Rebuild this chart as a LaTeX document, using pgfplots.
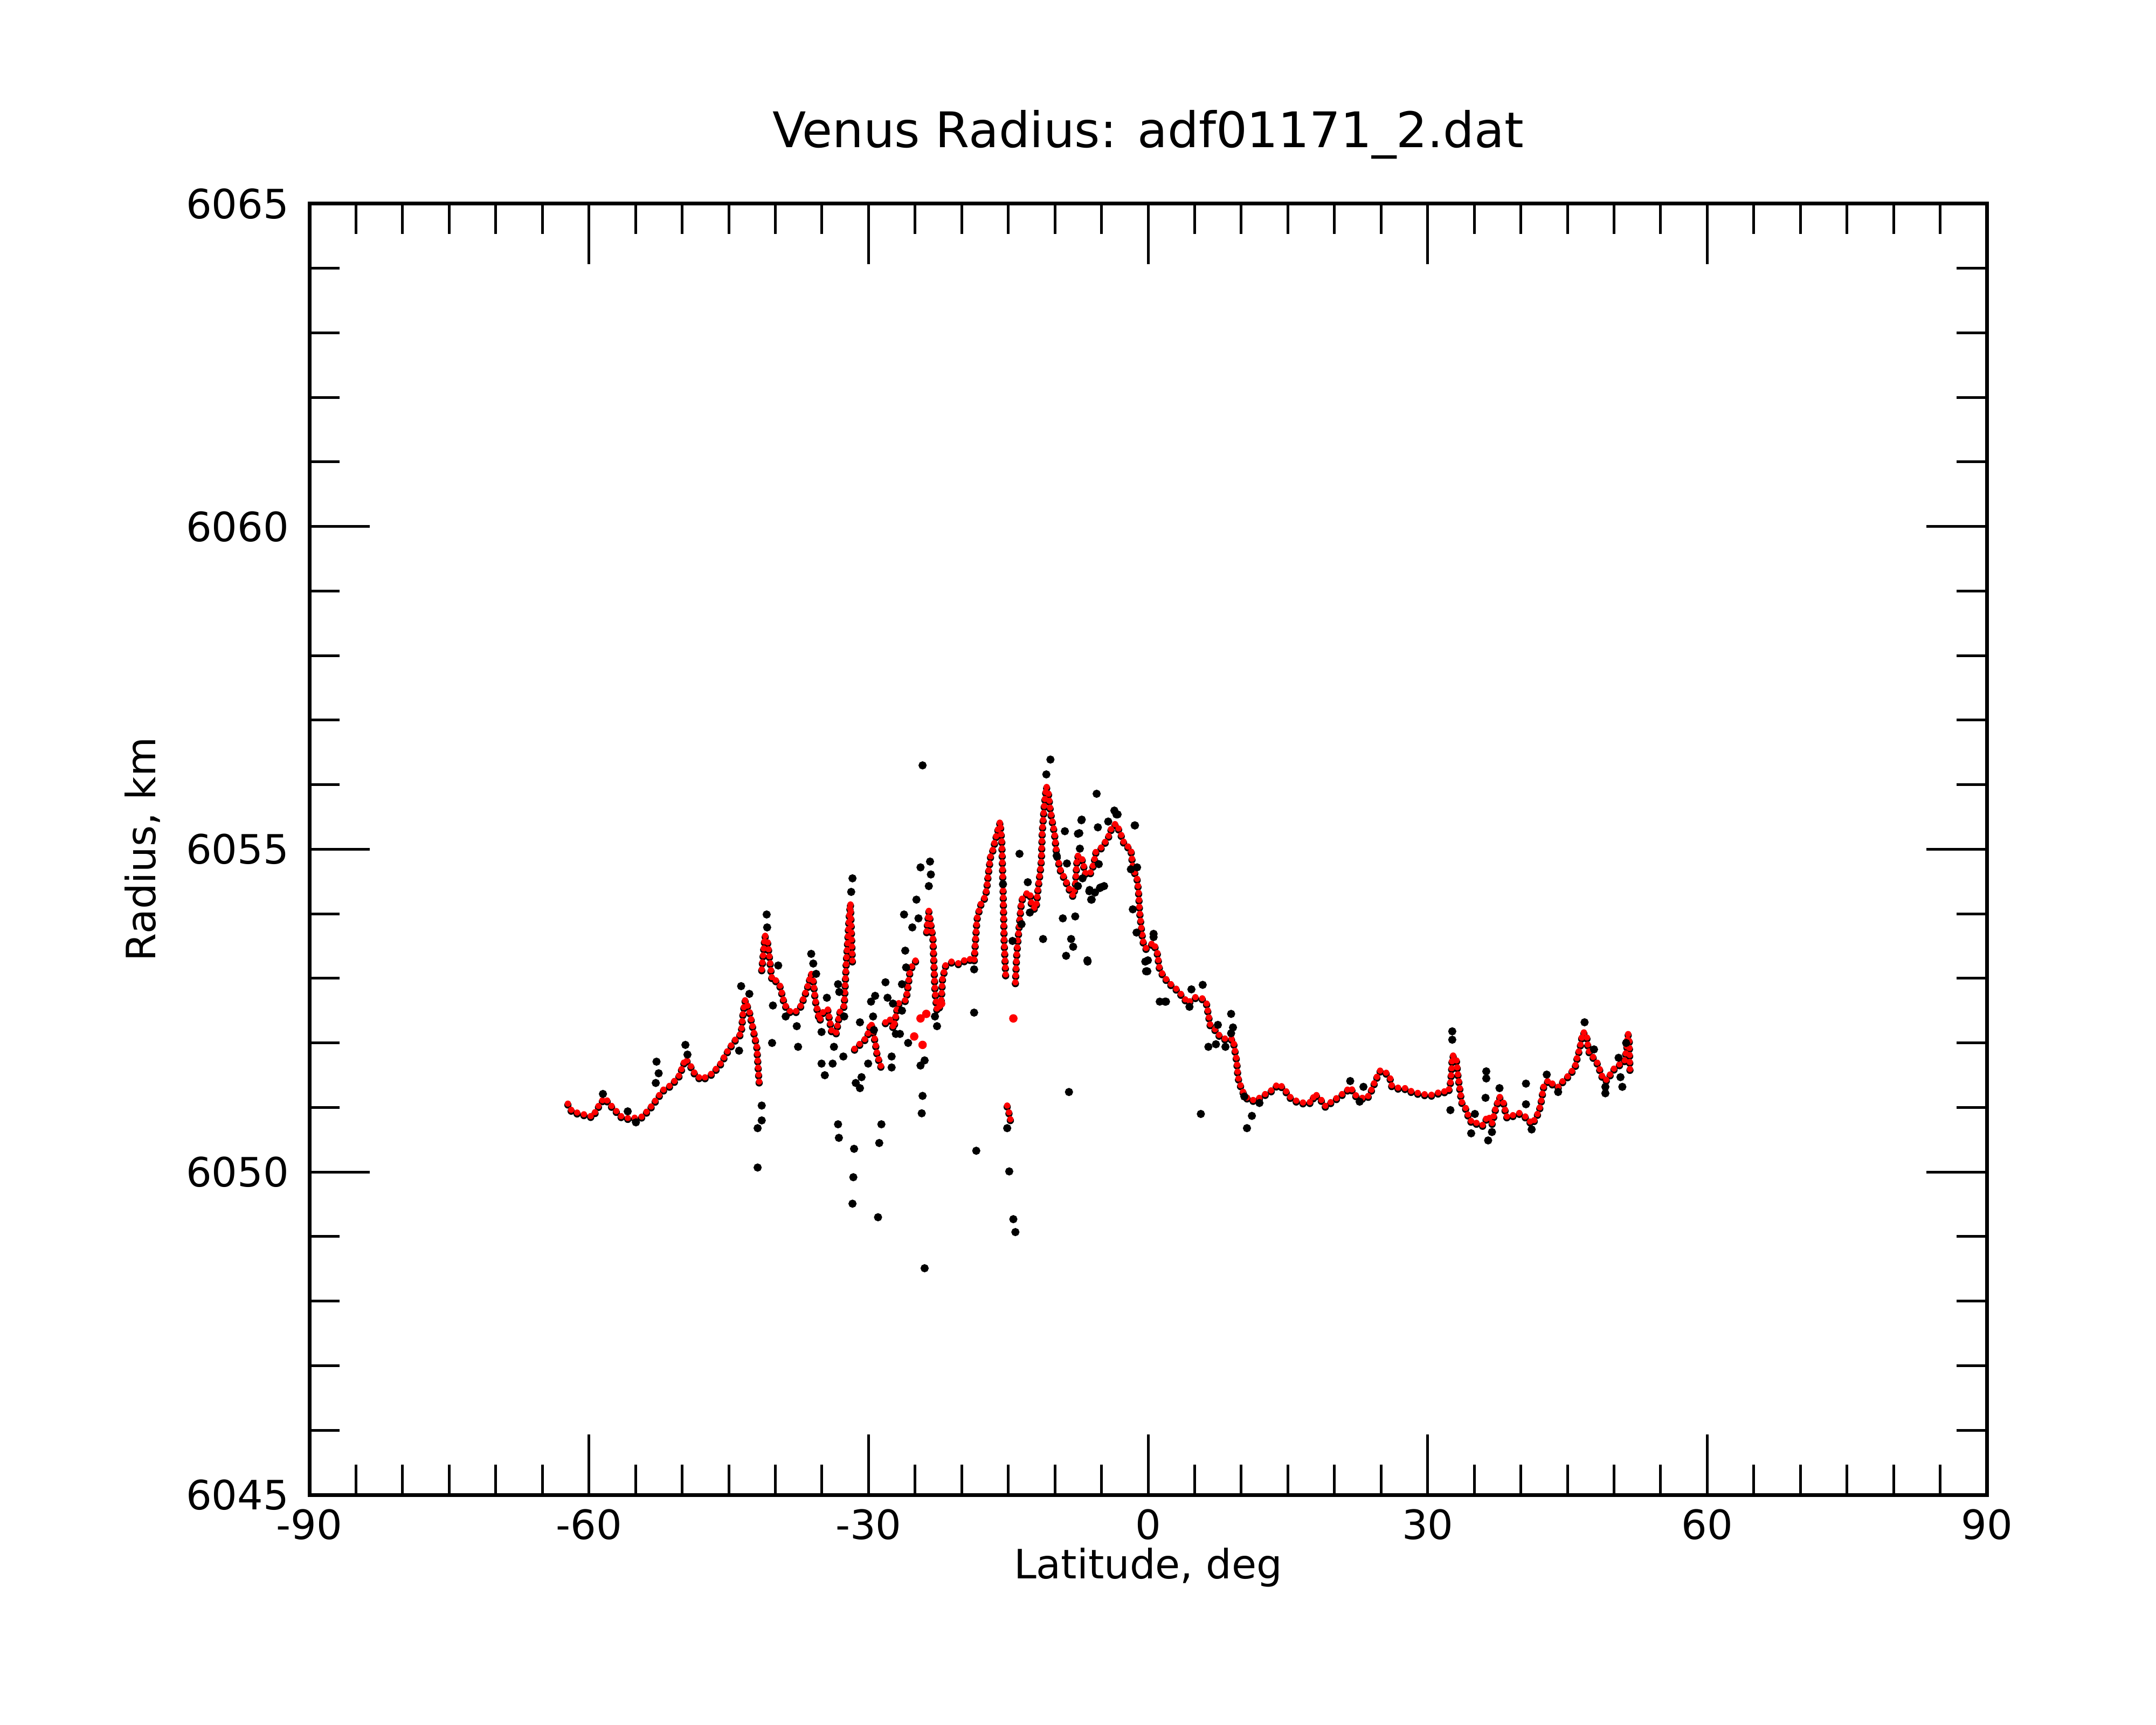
\documentclass[border=0pt]{standalone}
\usepackage{fontspec}
\setmainfont{DejaVu Sans}
\usepackage{pgfplots}
\usepackage{pgfplotstable}
\pgfplotsset{compat=1.18}
\pgfplotstableread{
lat r
-62.26 6051.06
-61.82 6050.94
-60.93 6050.91
-59.61 6050.86
-58.72 6051.09
-58.28 6051.15
-57.61 6051.03
-56.51 6050.86
-55.62 6050.83
-54.30 6050.86
-53.41 6051.00
-52.52 6051.18
-52.08 6051.27
-51.20 6051.35
-50.31 6051.50
-49.65 6051.76
-49.21 6051.68
-48.54 6051.50
-47.88 6051.44
-46.77 6051.53
-45.89 6051.68
-45.00 6051.91
-44.12 6052.09
-43.67 6052.15
-43.45 6052.50
-43.23 6052.67
-42.79 6052.50
-42.35 6052.20
-41.99 6051.95
-41.90 6051.76
-41.77 6051.46
-41.68 6051.30
-41.60 nan
-41.46 6053.14
-41.11 6053.67
-40.80 6053.55
-40.57 6053.26
-40.35 6052.97
-39.91 6052.97
-39.47 6052.88
-39.03 6052.61
-38.58 6052.50
-37.92 6052.47
-37.26 6052.58
-36.59 6052.85
-36.15 6053.08
-35.93 6052.97
-35.71 6052.67
-35.26 6052.35
-34.82 6052.50
-34.38 6052.53
-33.94 6052.17
-33.49 6052.15
-33.05 6052.50
-32.61 6052.58
-32.39 6053.26
-32.25 6053.55
-32.08 6053.96
-31.94 6054.17
-31.72 6053.23
-31.60 nan
-31.50 6051.91
-31.06 6051.97
-30.62 6052.03
-30.17 6052.09
-29.95 6052.20
-29.73 6052.32
-29.29 6052.03
-29.07 6051.82
-28.62 6051.62
-28.40 nan
-28.18 6052.32
-27.74 6052.38
-27.30 6052.23
-26.85 6052.61
-25.97 6052.67
-25.53 6053.14
-25.08 6053.26
-24.64 6053.32
-24.50 nan
-23.76 6053.73
-23.53 6054.05
-23.09 6053.64
-22.87 6052.82
-22.65 6052.50
-22.21 6052.61
-22.07 6052.99
-21.76 6053.20
-21.10 6053.26
-20.21 6053.23
-19.33 6053.32
-18.67 6053.26
-18.53 6053.58
-18.36 6053.93
-18.00 6054.14
-17.56 6054.25
-17.34 6054.37
-17.12 6054.66
-16.90 6054.90
-16.67 6054.99
-16.23 6055.25
-15.88 6055.43
-15.70 6055.13
-15.57 6054.45
-15.44 6053.55
-15.35 6053.29
-15.26 6052.97
-15.20 nan
-15.12 6051.03
-14.90 6050.91
-14.68 6050.74
-14.60 nan
-14.24 6052.94
-14.11 6053.35
-14.02 6053.52
-13.80 6053.87
-13.58 6054.22
-13.13 6054.31
-12.69 6054.34
-12.47 6054.11
-12.03 6054.08
-11.81 6054.40
-11.58 6054.66
-11.45 6054.84
-11.36 6055.28
-11.14 6055.69
-10.92 6055.98
-10.70 6055.89
-10.48 6055.60
-10.04 6055.25
-9.81 6054.93
-9.37 6054.66
-8.93 6054.55
-8.49 6054.40
-8.04 6054.28
-7.82 6054.43
-7.60 6054.90
-7.16 6054.90
-6.72 6054.63
-6.27 6054.61
-5.83 6054.78
-5.61 6054.96
-4.94 6055.04
-4.28 6055.19
-3.84 6055.37
-3.40 6055.40
-2.95 6055.25
-2.51 6055.07
-1.85 6055.02
-1.63 6054.72
-1.18 6054.55
-1.03 6054.37
-0.91 6054.05
-0.71 6053.77
-0.55 6053.58
-0.22 6053.47
0.59 6053.56
1.00 6053.39
1.20 6053.18
1.60 6053.05
2.21 6052.94
3.02 6052.84
3.83 6052.71
4.24 6052.62
5.05 6052.71
5.86 6052.69
6.27 6052.62
6.47 6052.45
6.67 6052.28
7.28 6052.20
7.69 6052.11
8.50 6052.05
9.11 6052.07
9.31 6051.90
9.51 6051.73
9.60 6051.56
9.72 6051.43
10.12 6051.26
10.73 6051.13
11.54 6051.11
12.35 6051.19
13.17 6051.26
13.98 6051.37
14.59 6051.30
15.19 6051.17
15.80 6051.11
16.82 6051.07
17.63 6051.09
17.83 6051.22
18.44 6051.15
19.05 6051.02
19.66 6051.09
20.47 6051.17
21.28 6051.26
21.69 6051.32
22.29 6051.19
22.90 6051.15
23.51 6051.15
23.92 6051.26
24.53 6051.47
24.93 6051.58
25.54 6051.54
25.95 6051.47
26.15 6051.34
26.96 6051.30
27.77 6051.30
28.38 6051.24
29.19 6051.22
30.21 6051.19
31.02 6051.22
31.42 6051.26
32.23 6051.24
32.44 6051.39
32.56 6051.56
32.64 6051.81
33.05 6051.79
33.25 6051.51
33.45 6051.30
33.65 6051.09
34.06 6051.00
34.47 6050.83
34.87 6050.75
35.48 6050.77
35.89 6050.73
36.29 6050.83
36.49 6050.88
36.90 6050.75
37.30 6051.00
37.71 6051.17
38.12 6051.09
38.32 6050.96
38.52 6050.85
39.13 6050.88
39.74 6050.92
40.14 6050.90
40.75 6050.83
41.16 6050.75
41.56 6050.83
41.97 6050.96
42.17 6051.09
42.46 6051.34
42.98 6051.43
43.59 6051.34
44.00 6051.32
44.61 6051.43
45.22 6051.51
45.83 6051.64
46.03 6051.77
46.35 6051.94
46.64 6052.17
47.04 6052.15
47.24 6051.90
47.45 6051.83
47.85 6051.77
48.26 6051.68
48.66 6051.51
48.87 6051.43
49.27 6051.43
49.68 6051.54
50.08 6051.62
50.69 6051.68
51.10 6051.71
51.38 6051.94
51.50 6052.15
51.63 6052.07
51.71 6051.58
}\redtab
\pgfplotstableread{
lat r
-24.42 6052.38
-24.20 6051.97
-14.46 6052.38
-22.21 6052.61
-25.10 6052.10
-23.80 6052.45
}\redsingle
\pgfplotstableread{
lat r
-58.50 6051.21
-55.84 6050.94
-54.96 6050.77
-52.75 6051.71
-52.52 6051.53
-52.83 6051.38
-49.65 6051.97
-49.43 6051.82
-43.67 6052.88
-42.79 6052.76
-43.89 6051.88
-41.90 6050.07
-41.90 6050.68
-41.46 6051.03
-41.46 6050.80
-40.93 6053.99
-40.88 6053.79
-40.35 6052.00
-40.26 6052.58
-39.69 6053.20
-38.89 6052.41
-37.70 6052.26
-37.56 6051.94
-36.15 6053.38
-35.93 6053.23
-35.62 6053.07
-35.04 6052.17
-35.04 6051.68
-34.69 6051.50
-34.47 6052.70
-33.71 6051.94
-33.85 6051.68
-33.27 6052.91
-33.14 6052.79
-33.27 6050.74
-33.18 6050.53
-32.70 6051.79
-32.61 6052.41
-31.72 6054.55
-31.86 6054.34
-31.55 6050.36
-31.63 6049.92
-31.72 6049.51
-31.37 6051.38
-30.92 6051.30
-30.92 6052.32
-30.75 6051.47
-30.04 6051.68
-29.73 6052.64
-29.29 6052.73
-29.51 6052.41
-29.42 6052.20
-28.98 6049.30
-28.85 6050.45
-28.62 6050.74
-28.18 6052.94
-27.96 6052.70
-27.52 6051.79
-27.52 6051.62
-27.38 6052.61
-27.07 6052.14
-26.63 6052.14
-26.41 6052.91
-26.41 6052.50
-26.19 6053.99
-26.06 6053.43
-25.97 6053.17
-25.75 6052.00
-25.30 6053.79
-24.86 6054.22
-24.64 6053.93
-24.42 6054.72
-24.20 6056.30
-23.98 6048.51
-24.20 6051.18
-24.29 6050.91
-24.42 6051.65
-23.98 6051.73
-23.53 6054.43
-23.40 6054.81
-23.31 6054.61
-22.65 6052.26
-22.87 6052.41
-18.67 6052.47
-18.44 6050.33
-18.67 6053.14
-15.57 6054.46
-14.90 6050.01
-14.46 6049.27
-14.24 6049.07
-15.12 6050.68
-14.55 6053.58
-13.80 6054.93
-13.58 6053.84
-12.91 6054.49
-12.69 6054.02
-11.27 6053.61
-10.92 6056.16
-10.48 6056.39
-9.81 6054.90
-9.15 6053.93
-8.93 6055.28
-8.80 6053.35
-8.49 6051.24
-8.26 6053.61
-8.04 6053.49
-8.71 6054.78
-7.82 6053.96
-7.38 6055.25
-7.16 6055.45
-7.03 6054.55
-6.49 6053.26
-6.27 6054.37
-6.05 6054.22
-5.52 6055.86
-5.39 6055.34
-5.17 6054.40
-4.72 6054.43
-4.28 6055.43
-3.62 6055.60
-3.40 6055.54
-1.40 6055.37
-1.18 6054.72
-0.30 6053.26
-0.08 6053.11
0.59 6053.64
1.25 6052.64
1.92 6052.64
-7.12 6055.46
-7.53 6055.24
-7.32 6055.01
-7.53 6054.43
-6.31 6054.35
-6.11 6054.22
-5.70 6054.33
-5.09 6054.41
-6.51 6053.28
-5.29 6054.77
-3.27 6055.54
-1.85 6054.69
-1.64 6054.07
-1.24 6053.71
-1.44 6055.37
-0.22 6053.11
-0.02 6053.28
0.59 6053.69
1.81 6052.64
4.44 6052.56
4.65 6052.83
5.86 6052.90
6.47 6051.94
7.49 6052.28
7.28 6051.98
8.30 6051.94
8.91 6052.45
9.11 6052.24
8.91 6052.15
5.66 6050.90
10.61 6050.68
11.14 6050.87
10.33 6051.17
11.95 6051.07
21.69 6051.41
22.70 6051.09
23.11 6051.32
32.64 6052.18
32.44 6050.96
32.64 6052.05
34.67 6050.60
35.07 6050.90
36.29 6051.56
36.29 6051.45
36.21 6051.15
36.49 6050.49
36.90 6050.62
37.71 6051.30
40.55 6051.37
40.55 6051.05
41.16 6050.66
42.78 6051.51
44.00 6051.24
46.84 6052.32
47.85 6051.90
49.07 6051.32
49.07 6051.22
50.49 6051.77
50.69 6051.47
50.89 6051.32
51.30 6052.00
}\blacktab
\begin{document}
\begin{tikzpicture}
\path[use as bounding box] (0,0) rectangle (400bp,320bp);
\begin{axis}[
  at={(57.4bp,42.7bp)}, anchor=south west,
  scale only axis, width=311.2bp, height=239.5bp,
  xmin=-90, xmax=90, ymin=6045, ymax=6065,
  xtick={-90,-60,-30,0,30,60,90},
  xticklabels={-90,-60,-30,0,30,60,90},
  ytick={6045,6050,6055,6060,6065},
  yticklabels={6045,6050,6055,6060,6065},
  minor x tick num=5, minor y tick num=4,
  tick align=inside, tick pos=both,
  major tick length=11.2bp, minor tick length=5.6bp,
  tick style={black, line width=0.5bp},
  axis line style={line width=0.7bp},
  font=\fontsize{7.5bp}{9bp}\selectfont,
  xticklabel style={inner sep=0pt, anchor=north, yshift=-2.5bp},
  yticklabel style={inner sep=0pt, anchor=east, xshift=-3.6bp},
  xlabel={Latitude, deg},
  xlabel style={at={(axis description cs:0.5,-0.0564)}, anchor=center, inner sep=0pt},
  ylabel={Radius, km},
  ylabel style={at={(axis description cs:-0.0996,0.5)}, anchor=center, inner sep=0pt},
  unbounded coords=jump,
]
\addplot[only marks, mark=*, mark size=0.55bp, black] table {\blacktab};
\addplot[no markers, black, line width=1.35bp, line cap=round, dash pattern=on 0bp off 1.3bp, yshift=-0.25bp] table {\redtab};
\addplot[no markers, red, line width=1.15bp, line cap=round, dash pattern=on 0bp off 1.3bp] table {\redtab};
\addplot[only marks, mark=*, mark size=0.58bp, red, draw=red, fill=red] table {\redsingle};
\end{axis}
\node[font=\fontsize{9.1bp}{11bp}\selectfont, inner sep=0pt] at (213bp,295bp) {Venus Radius: adf01171\_2.dat};
\end{tikzpicture}
\end{document}
